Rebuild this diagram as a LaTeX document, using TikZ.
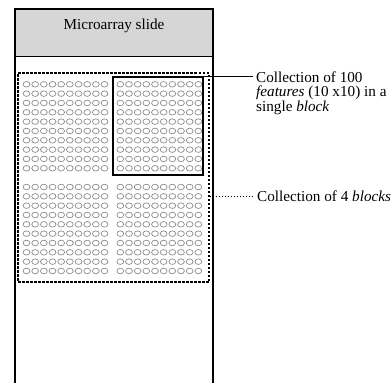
\documentclass[tikz,border=0pt]{standalone}
\usepackage{fontspec}
\setmainfont{Liberation Serif}
\usetikzlibrary{calc}

\begin{document}
\begin{tikzpicture}[x=1pt,y=-1pt,
  spot/.style={black!45,line width=0.7pt},
  blockbox/.style={draw,line width=1.3pt,inner sep=0pt},
  blocksbox/.style={draw,line width=1.3pt,dash pattern=on 2.5pt off 1.5pt,inner sep=0pt},
  notetext/.style={font=\fontsize{15.2}{14.4}\selectfont,inner sep=0pt}]
  \useasboundingbox (0,0) rectangle (392,383);
  % slide and its header
  \node[fill=black!16,draw,line width=0.9pt,minimum width=198pt,minimum height=47pt,inner sep=0pt] (header) at (114,32.5) {};
  \draw[line width=1.5pt] (15,384) -- (15,9) -- (213,9) -- (213,384);
  \node[notetext,anchor=base] (title) at (114,29.5) {Microarray slide};
  % 4 blocks of 10x10 features
  \foreach \bx in {26.5,120.3}
    \foreach \by in {84.3,187}
      \foreach \i in {0,...,9}
        \foreach \j in {0,...,9}
          \draw[spot] (\bx+8.67*\i,\by+9.33*\j) ellipse [x radius=3.4pt,y radius=2.8pt];
  \node[blocksbox,minimum width=191pt,minimum height=209pt] (blocks) at (113.5,177.5) {};
  \node[blockbox,minimum width=90pt,minimum height=98pt] (block) at (158,126) {};
  % notes
  \node[notetext,anchor=north west,align=left] (note100) at (256,71.5)
    {Collection of 100\\ \textit{features} (10 x10) in a\\ single \textit{block}};
  \node[notetext,anchor=base west] (note4) at (257,201.7) {Collection of 4 \textit{blocks}};
  \draw[line width=0.8pt] (block.north east) -- ([xshift=-3pt]block.north east -| note100.west);
  \draw[line width=0.8pt,dash pattern=on 1.5pt off 1.5pt] (note4.west -| blocks.east) -- ([xshift=-4pt]note4.west);
\end{tikzpicture}
\end{document}
